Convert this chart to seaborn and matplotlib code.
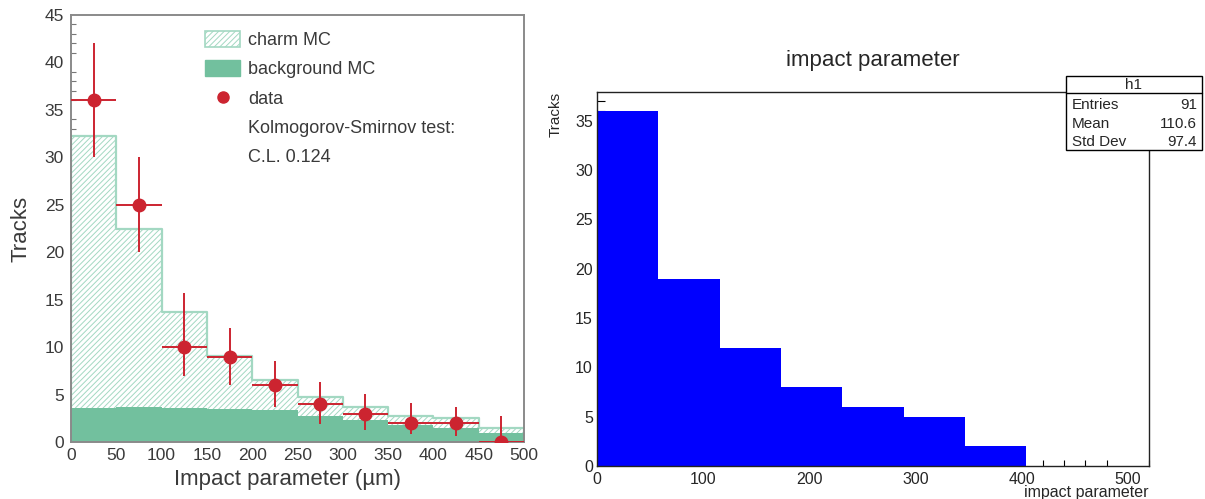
import matplotlib
matplotlib.use("Agg")
import matplotlib.pyplot as plt
import numpy as np
import seaborn as sns
from matplotlib.lines import Line2D
from matplotlib.patches import Patch, Rectangle
from matplotlib.ticker import MultipleLocator

sns.set_style("white")
plt.rcParams["font.family"] = ["Liberation Sans", "DejaVu Sans"]
plt.rcParams["hatch.linewidth"] = 0.7
plt.rcParams["hatch.color"] = "#bfe1d2"

# left panel: MC vs data, 50 um bins
left_edges = [0, 50, 100, 150, 200, 250, 300, 350, 400, 450, 500]
left_centers = [25, 75, 125, 175, 225, 275, 325, 375, 425, 475]
charm_mc = [32.2, 22.4, 13.7, 9.1, 6.5, 4.7, 3.7, 2.7, 2.5, 1.45]
background_mc = [3.6, 3.7, 3.6, 3.5, 3.4, 2.7, 2.3, 1.8, 1.5, 0.95]
data_tracks = [36, 25, 10, 9, 6, 4, 3, 2, 2, 0]
data_err_low = [6, 5, 3, 3, 2.3, 2.1, 1.7, 1.2, 1.4, 0]
data_err_high = [6, 5, 5.7, 3, 2.5, 2.3, 2.1, 2.1, 1.7, 2.7]
legend_labels = ["charm MC", "background MC", "data",
                 "Kolmogorov-Smirnov test:", "C.L. 0.124"]

# right panel: ROOT histogram h1, 9 bins over 0-520
right_centers = [28.9, 86.7, 144.4, 202.2, 260.0, 317.8, 375.6, 433.3, 491.1]
right_counts = [36, 19, 12, 8, 6, 5, 2, 0, 0]
stats_labels = ["Entries", "Mean", "Std Dev"]
stats_values = ["91", "110.6", "97.4"]

W, H = 1205, 499
def fx(x):
    return x / W
def fy(y):
    return 1 - y / H

green = "#72c09e"
charm_edge = "#a3d8c2"
red = "#cc2430"
gray_txt = "#3a3a3a"

fig = plt.figure(figsize=(W / 100, H / 100), dpi=100)
ax1 = fig.add_axes([fx(71), fy(442), (524 - 71) / W, (442 - 15) / H])
ax2 = fig.add_axes([fx(597), fy(466), (1149 - 597) / W, (466 - 92) / H])

# ---- left panel
sns.histplot(x=left_centers, weights=charm_mc, bins=left_edges, element="step",
             fill=True, facecolor="white", edgecolor=charm_edge, hatch="//////",
             linewidth=1.6, alpha=1, ax=ax1)
sns.histplot(x=left_centers, weights=background_mc, bins=left_edges, element="step",
             fill=True, facecolor=green, edgecolor=green, linewidth=0, alpha=1, ax=ax1)
ax1.errorbar(left_centers, data_tracks, yerr=[data_err_low, data_err_high],
             xerr=25, fmt="o", color=red, ms=9, elinewidth=1.4, capsize=0, zorder=5)

ax1.set_xlim(0, 500)
ax1.set_ylim(0, 45)
ax1.xaxis.set_major_locator(MultipleLocator(50))
ax1.yaxis.set_major_locator(MultipleLocator(5))
ax1.yaxis.set_minor_locator(MultipleLocator(1))
ax1.tick_params(axis="y", which="major", direction="in", length=7, width=1,
                color="#777777", labelsize=12.5, labelcolor=gray_txt, pad=5)
ax1.tick_params(axis="y", which="minor", direction="in", length=3.5, width=0.8,
                color="#777777", left=True)
ax1.tick_params(axis="x", length=0, labelsize=12.5, labelcolor=gray_txt, pad=4)
for s in ax1.spines.values():
    s.set_color("#8a8a8a")
    s.set_linewidth(1.4)
ax1.set_ylabel("Tracks", fontsize=16, color=gray_txt)
ax1.yaxis.set_label_coords(-0.088, 0.5)
ax1.set_xlabel("Impact parameter (\u00b5m)", fontsize=16, color=gray_txt)
ax1.xaxis.set_label_coords(0.477, -0.063)

handles = [
    Patch(facecolor="white", edgecolor=charm_edge, hatch="//////", linewidth=1.2),
    Patch(facecolor=green, edgecolor=green),
    Line2D([], [], marker="o", color=red, linestyle="none", ms=8),
    Line2D([], [], linestyle="none"),
    Line2D([], [], linestyle="none"),
]
leg = ax1.legend(handles, legend_labels, loc="upper left", bbox_to_anchor=(0.296, 0.962),
                 frameon=False, fontsize=13, handlelength=1.95, handleheight=0.95,
                 labelspacing=0.62, handletextpad=0.45, borderpad=0, borderaxespad=0)
for t in leg.get_texts():
    t.set_color(gray_txt)

# ---- right panel
sns.histplot(x=right_centers, weights=right_counts, bins=9, binrange=(0, 520),
             element="step", fill=True, facecolor="#0000ff", edgecolor="#0000ff",
             linewidth=0, alpha=1, ax=ax2)
ax2.set_xlim(0, 520)
ax2.set_ylim(0, 37.9)
ax2.xaxis.set_major_locator(MultipleLocator(100))
ax2.xaxis.set_minor_locator(MultipleLocator(20))
ax2.yaxis.set_major_locator(MultipleLocator(5))
ax2.yaxis.set_minor_locator(MultipleLocator(1))
ax2.tick_params(axis="y", which="major", direction="in", length=12, width=1,
                color="black", labelsize=11.5, pad=3)
ax2.tick_params(axis="y", which="minor", direction="in", length=6, width=0.8,
                color="black", left=True)
ax2.tick_params(axis="x", which="major", direction="in", length=8, width=1,
                color="black", labelsize=11.5, pad=4)
ax2.tick_params(axis="x", which="minor", direction="in", length=4, width=0.8,
                color="black", bottom=True)
ax2.tick_params(top=False, right=False, which="both")
for s in ax2.spines.values():
    s.set_color("#222222")
    s.set_linewidth(1)
ax2.set_title("impact parameter", fontsize=16, pad=19)
ax2.set_ylabel("Tracks", fontsize=11, loc="top")
ax2.yaxis.set_label_coords(-0.062, 1.0)
ax2.set_xlabel("impact parameter", fontsize=11.5, loc="right")
ax2.xaxis.set_label_coords(1.0, -0.05)

# stats box
fig.add_artist(Rectangle((fx(1066), fy(150)), (1202 - 1066) / W, (150 - 76) / H,
                         transform=fig.transFigure, facecolor="white",
                         edgecolor="black", linewidth=1, zorder=10))
fig.add_artist(Line2D([fx(1066), fx(1202)], [fy(93), fy(93)],
                      transform=fig.transFigure, color="black", linewidth=1, zorder=11))
fig.text(fx(1134), fy(85), "h1", ha="center", va="center", fontsize=11, zorder=12)
for i, (lab, val) in enumerate(zip(stats_labels, stats_values)):
    y = fy(105.5 + 18.5 * i)
    fig.text(fx(1072), y, lab, ha="left", va="center", fontsize=11, zorder=12)
    fig.text(fx(1197), y, val, ha="right", va="center", fontsize=11, zorder=12)

fig.savefig("out.png", dpi=100)
